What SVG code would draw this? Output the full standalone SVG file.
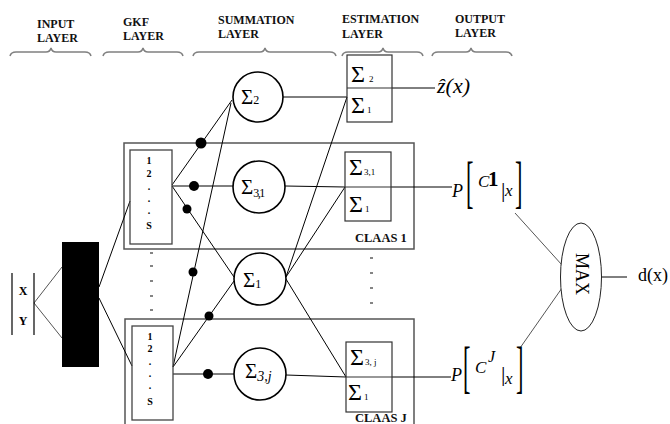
<svg xmlns="http://www.w3.org/2000/svg" width="670" height="424" viewBox="0 0 670 424">
<style>
  .hdr{font-family:"Liberation Serif",serif;font-weight:bold;font-size:12px;fill:#111}
  .brace{fill:none;stroke:#808080;stroke-width:1.5}
  .ln{stroke:#000;stroke-width:1;fill:none}
  .gl{stroke:#555;stroke-width:1;fill:none}
  .dot{fill:#000}
  .circ{fill:#fff;stroke:#000;stroke-width:1.6}
  .box{fill:none;stroke:#333;stroke-width:1.2}
  .gkf{fill:none;stroke:#444;stroke-width:1.3}
  .cls{fill:none;stroke:#555;stroke-width:1.5}
  .sig{font-family:"Liberation Serif",serif;font-size:21px;fill:#000}
  .sub{font-family:"Liberation Serif",serif;font-size:12px;fill:#000}
  .esig{font-family:"Liberation Serif",serif;font-size:24px;fill:#000}
  .esub{font-family:"Liberation Serif",serif;font-size:9px;fill:#000}
  .num{font-family:"Liberation Serif",serif;font-weight:bold;font-size:10px;fill:#000;text-anchor:middle}
  .xy{font-family:"Liberation Serif",serif;font-weight:bold;font-size:12px;fill:#000;text-anchor:middle}
  .lbl{font-family:"Liberation Serif",serif;font-weight:bold;font-size:12.5px;fill:#111}
  .it{font-family:"Liberation Serif",serif;font-style:italic;fill:#000}
  .rm{font-family:"Liberation Serif",serif;fill:#000}
  .dash{stroke:#333;stroke-width:1.2}
</style>

<g id="headers">
  <text class="hdr" x="37" y="28">INPUT</text>
  <text class="hdr" x="37" y="42">LAYER</text>
  <text class="hdr" x="123" y="26">GKF</text>
  <text class="hdr" x="123" y="40">LAYER</text>
  <text class="hdr" x="218" y="24">SUMMATION</text>
  <text class="hdr" x="218" y="38">LAYER</text>
  <text class="hdr" x="342" y="23">ESTIMATION</text>
  <text class="hdr" x="342" y="38">LAYER</text>
  <text class="hdr" x="455" y="23">OUTPUT</text>
  <text class="hdr" x="455" y="37">LAYER</text>
  <path class="brace" d="M10,56 Q11,52 16,52 L46,52 Q50,52 51,48 Q52,52 56,52 L85,52 Q90,52 91,56"/>
  <path class="brace" d="M103,56 Q104,52 109,52 L138,52 Q142,52 143,48 Q144,52 148,52 L177,52 Q182,52 183,56"/>
  <path class="brace" d="M193,56 Q194,52 199,52 L260,52 Q264,52 265,48 Q266,52 270,52 L330,52 Q335,52 336,56"/>
  <path class="brace" d="M342,56 Q343,52 348,52 L378,52 Q382,52 383,48 Q384,52 388,52 L417,52 Q422,52 423,56"/>
  <path class="brace" d="M432,56 Q433,52 438,52 L466,52 Q470,52 471,48 Q472,52 476,52 L506,52 Q511,52 512,56"/>
</g>

<g id="class1-frame">
  <rect class="cls" x="124" y="143" width="290" height="106"/>
  <text class="lbl" x="355" y="242">CLAAS 1</text>
</g>
<g id="classJ-frame">
  <rect class="cls" x="125" y="319" width="289" height="120"/>
  <text class="lbl" x="355" y="422">CLAAS J</text>
</g>

<g id="ellipsis">
  <line class="dash" x1="150" y1="253" x2="153" y2="253"/>
  <line class="dash" x1="150" y1="266" x2="153" y2="266"/>
  <line class="dash" x1="150" y1="281" x2="153" y2="281"/>
  <line class="dash" x1="150" y1="296" x2="153" y2="296"/>
  <line class="dash" x1="150" y1="310" x2="153" y2="310"/>
  <line class="dash" x1="370" y1="258" x2="373" y2="258"/>
  <line class="dash" x1="370" y1="273" x2="373" y2="273"/>
  <line class="dash" x1="370" y1="288" x2="373" y2="288"/>
  <line class="dash" x1="370" y1="303" x2="373" y2="303"/>
</g>

<g id="connectors">
  <line class="gl" x1="34" y1="303" x2="62" y2="267"/>
  <line class="gl" x1="34" y1="303" x2="62" y2="338"/>
  <line class="ln" x1="99" y1="287" x2="130" y2="201"/>
  <line class="ln" x1="99" y1="298" x2="132" y2="366"/>
  <line class="ln" x1="172" y1="185" x2="232" y2="100"/>
  <line class="ln" x1="172" y1="186" x2="233" y2="186"/>
  <line class="ln" x1="172" y1="186" x2="234" y2="277"/>
  <line class="ln" x1="173" y1="367" x2="231" y2="103"/>
  <line class="ln" x1="173" y1="367" x2="234" y2="281"/>
  <line class="ln" x1="173" y1="374" x2="234" y2="374"/>
  <line class="ln" x1="283" y1="97" x2="347" y2="97"/>
  <line class="ln" x1="285" y1="186" x2="345" y2="187"/>
  <line class="ln" x1="286" y1="375" x2="346" y2="377"/>
  <line class="ln" x1="286" y1="277" x2="347" y2="97"/>
  <line class="ln" x1="286" y1="277" x2="345" y2="187"/>
  <line class="ln" x1="286" y1="279" x2="346" y2="377"/>
  <line class="ln" x1="392" y1="88" x2="435" y2="88"/>
  <line class="ln" x1="391" y1="187" x2="452" y2="187"/>
  <line class="ln" x1="392" y1="377" x2="451" y2="377"/>
  <line class="gl" x1="515" y1="213" x2="562" y2="265"/>
  <line class="gl" x1="562" y1="288" x2="520" y2="348"/>
  <line class="ln" x1="602" y1="277" x2="627" y2="277"/>
  <circle class="dot" cx="201" cy="143" r="5.5"/>
  <circle class="dot" cx="194" cy="186" r="5"/>
  <circle class="dot" cx="187" cy="209" r="4.5"/>
  <circle class="dot" cx="193" cy="272" r="4.5"/>
  <circle class="dot" cx="209" cy="316" r="4.5"/>
  <circle class="dot" cx="208" cy="374" r="5"/>
</g>

<g id="input">
  <line x1="12" y1="273" x2="12" y2="335" stroke="#000" stroke-width="1.2"/>
  <line x1="34" y1="273" x2="34" y2="335" stroke="#000" stroke-width="1.2"/>
  <text class="xy" x="23" y="295">X</text>
  <text class="xy" x="23" y="325">Y</text>
</g>

<g id="kernel-block">
  <rect x="62" y="242" width="37" height="125" fill="#000"/>
</g>

<g id="gkf1">
  <rect class="gkf" x="130" y="150" width="42" height="94"/>
  <text class="num" x="149" y="164">1</text>
  <text class="num" x="149" y="177">2</text>
  <text class="num" x="149" y="190">.</text>
  <text class="num" x="149" y="202">.</text>
  <text class="num" x="149" y="214">.</text>
  <text class="num" x="149" y="229">S</text>
</g>
<g id="gkfJ">
  <rect class="gkf" x="132" y="326" width="41" height="94"/>
  <text class="num" x="150" y="340">1</text>
  <text class="num" x="150" y="352">2</text>
  <text class="num" x="150" y="365">.</text>
  <text class="num" x="150" y="377">.</text>
  <text class="num" x="150" y="389">.</text>
  <text class="num" x="150" y="405">S</text>
</g>

<g id="sum2">
  <circle class="circ" cx="258" cy="97" r="25"/>
  <text class="sig" x="241" y="104">Σ<tspan class="sub" font-size="13">2</tspan></text>
</g>
<g id="sum31">
  <circle class="circ" cx="259" cy="187" r="26"/>
  <text class="sig" x="241" y="194">Σ<tspan class="sub" dy="3" font-size="12" letter-spacing="-1.5">3,1</tspan></text>
</g>
<g id="sum1">
  <circle class="circ" cx="260" cy="279" r="26"/>
  <text class="sig" x="243" y="287">Σ<tspan class="sub" dy="1">1</tspan></text>
</g>
<g id="sum3j">
  <circle class="circ" cx="260" cy="374" r="26"/>
  <text class="sig" x="245" y="378">Σ<tspan class="it" font-size="14" dy="3">3,j</tspan></text>
</g>

<g id="est-top">
  <rect class="box" x="347" y="55" width="45" height="67"/>
  <line class="box" x1="347" y1="88" x2="392" y2="88"/>
  <text class="esig" x="351" y="82">Σ<tspan class="esub" dx="4">2</tspan></text>
  <text class="esig" x="351" y="113">Σ<tspan class="esub" dx="2">1</tspan></text>
</g>
<g id="est-class1">
  <rect class="box" x="345" y="152" width="46" height="69"/>
  <line class="box" x1="345" y1="187" x2="391" y2="187"/>
  <text class="esig" x="349" y="175">Σ<tspan class="esub" font-size="8" dx="1">3,1</tspan></text>
  <text class="esig" x="349" y="212">Σ<tspan class="esub" dx="2">1</tspan></text>
</g>
<g id="est-classJ">
  <rect class="box" x="346" y="342" width="46" height="70"/>
  <line class="box" x1="346" y1="377" x2="392" y2="377"/>
  <text class="esig" x="350" y="365">Σ<tspan class="esub" font-size="8" dx="1" fill="#666">3, j</tspan></text>
  <text class="esig" x="348" y="400">Σ<tspan class="esub" dx="2">1</tspan></text>
</g>

<g id="out-z">
  <text class="it" x="437" y="93" font-size="22">ẑ<tspan class="rm">(</tspan>x<tspan class="rm">)</tspan></text>
</g>
<g id="out-p1">
  <text class="it" x="452" y="197" font-size="18">P</text>
  <text class="rm" font-size="56" transform="translate(466,201) scale(0.4,1)">[</text>
  <text class="it" x="478" y="187" font-size="17">C</text>
  <text class="rm" x="488" y="186" font-size="21" font-weight="bold">1</text>
  <text class="rm" x="501" y="197" font-size="22">|</text>
  <text class="it" x="505" y="196" font-size="17">x</text>
  <text class="rm" font-size="56" transform="translate(515,201) scale(0.4,1)">]</text>
</g>
<g id="out-pJ">
  <text class="it" x="451" y="381" font-size="18">P</text>
  <text class="rm" font-size="56" transform="translate(463,386) scale(0.4,1)">[</text>
  <text class="it" x="475" y="373" font-size="17">C</text>
  <text class="it" x="488" y="362" font-size="16">J</text>
  <text class="rm" x="501" y="381" font-size="22">|</text>
  <text class="it" x="505" y="384" font-size="17">x</text>
  <text class="rm" font-size="56" transform="translate(516,386) scale(0.4,1)">]</text>
</g>

<g id="max">
  <ellipse cx="581" cy="277" rx="20.5" ry="54" fill="#fff" stroke="#222" stroke-width="1"/>
  <text class="rm" font-size="18" text-anchor="middle" dominant-baseline="central" transform="translate(582,274) rotate(90)">MAX</text>
</g>
<g id="output">
  <text class="rm" x="638" y="281" font-size="18">d(x)</text>
</g>
</svg>
